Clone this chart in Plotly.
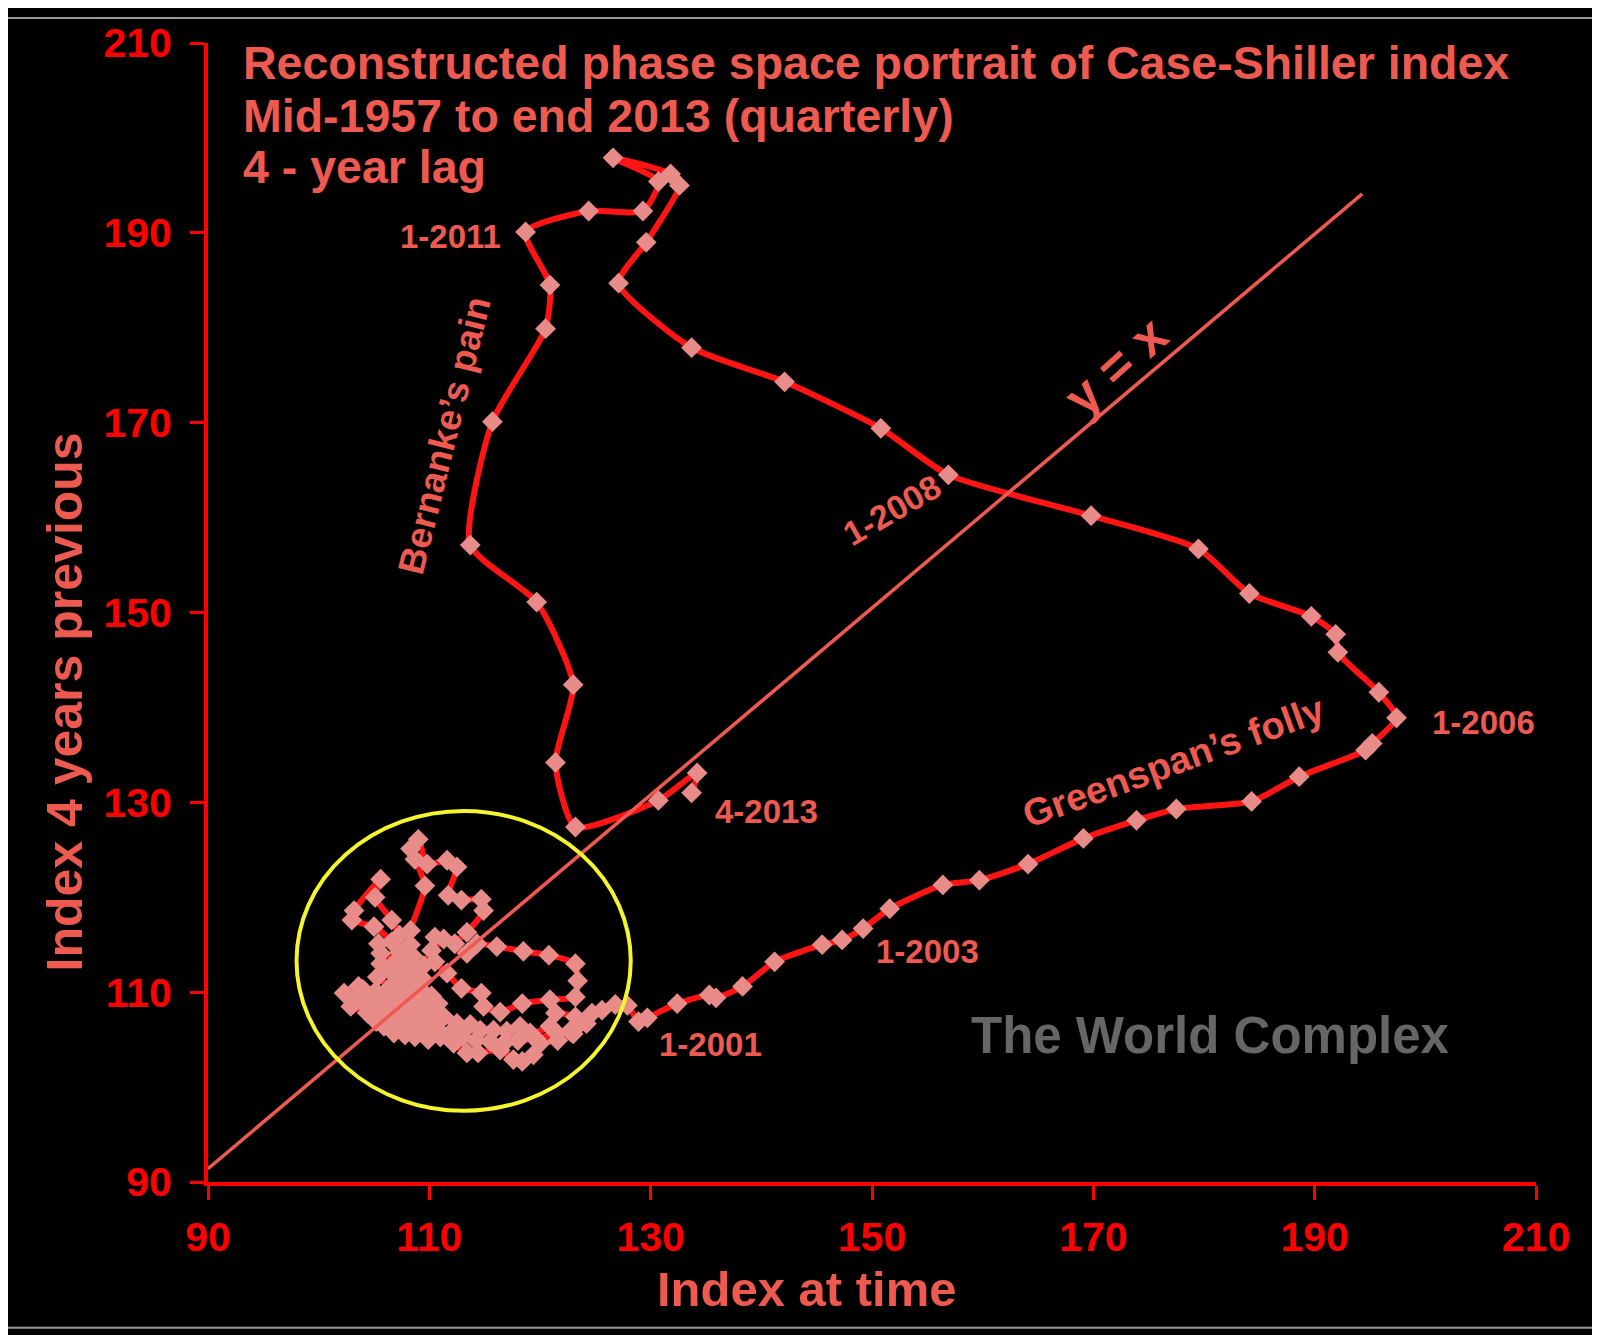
import plotly.graph_objects as go

# 1957-2000: the tangled cluster (order along the path is approximate)
cluster_x = [107.5, 108.2, 108.9, 109.5, 110.4, 109.8, 108.9, 108.3, 107.4, 106.5,
             105.3, 105.6, 106.4, 107.1, 108.3, 109.5, 108.9, 108.3, 107.1, 105.6,
             105.4, 106.6, 105.0, 103.0, 103.2, 105.6, 105.1, 106.6, 107.3, 107.3,
             108.0, 108.6, 108.9, 108.0, 107.0, 105.9, 106.8, 107.8, 108.6, 109.5,
             111.0, 110.4, 109.8, 108.8, 107.6, 106.3, 105.0, 103.6, 102.3, 102.9,
             104.4, 105.2, 106.2, 106.9, 107.8, 108.5, 109.3, 110.2, 110.8, 111.3,
             110.6, 109.9, 109.0, 108.3, 107.4, 107.0, 107.8, 108.5, 108.3, 108.3,
             109.6, 108.7, 108.3, 109.0, 109.8, 111.6, 112.5, 111.7, 112.9, 114.7,
             114.9, 113.4, 112.3, 113.4, 114.3, 116.1, 118.5, 120.8, 123.2, 123.4,
             123.2, 120.9, 118.4, 116.4, 114.9, 114.7, 112.9, 111.6, 110.5, 110.5,
             111.3, 110.2, 109.5, 108.9, 107.9, 106.9, 105.9, 104.6, 103.8, 105.0,
             106.0, 107.2, 108.2, 109.2, 110.2, 111.3, 112.5, 113.7, 114.6, 115.8,
             117.0, 118.2, 119.1, 120.9, 121.4, 123.2, 124.2, 123.0, 121.6, 120.0,
             119.4, 118.4, 117.6, 116.4, 114.4, 113.4, 112.2, 111.0, 109.9, 108.7,
             107.6, 106.5, 105.4, 104.2, 103.4, 104.0, 105.2, 106.0, 107.2, 108.4,
             109.7, 110.8, 111.9, 113.0, 114.2, 115.5, 116.8, 118.0, 119.6, 121.5,
             122.7, 123.6, 124.7, 125.6, 126.8, 127.9, 128.9]
cluster_y = [109.5, 110.3, 109.6, 108.5, 107.8, 106.4, 106.9, 107.8, 108.6, 110.6,
             111.6, 113.0, 112.3, 111.2, 110.9, 111.3, 112.4, 112.7, 113.4, 114.1,
             115.1, 115.3, 116.9, 117.6, 118.6, 121.9, 120.0, 117.6, 116.0, 114.2,
             113.6, 111.8, 109.5, 108.4, 107.2, 106.4, 105.7, 105.5, 106.2, 105.9,
             105.3, 106.9, 108.0, 108.8, 109.3, 109.4, 109.9, 110.6, 109.9, 108.5,
             107.8, 106.9, 107.6, 108.3, 109.0, 109.8, 110.2, 109.6, 108.8, 107.4,
             106.8, 107.3, 107.8, 108.2, 110.0, 111.8, 112.2, 113.8, 115.0, 116.5,
             121.2, 124.0, 125.1, 126.1, 123.5, 123.9, 123.2, 120.2, 119.7, 119.8,
             118.6, 116.3, 115.1, 114.1, 115.1, 114.8, 114.3, 113.9, 113.0, 111.2,
             109.5, 109.2, 108.8, 107.9, 108.5, 109.9, 110.4, 112.0, 113.2, 115.8,
             115.6, 114.4, 112.8, 111.0, 110.5, 109.8, 108.6, 109.3, 109.6, 108.2,
             106.9, 106.3, 106.6, 106.9, 106.1, 107.4, 106.7, 106.6, 106.0, 106.0,
             105.9, 106.4, 105.7, 106.4, 107.8, 107.4, 106.7, 105.6, 104.9, 104.6,
             103.4, 102.7, 102.9, 103.9, 103.6, 103.6, 104.6, 105.3, 105.0, 105.3,
             106.0, 106.6, 107.4, 108.6, 109.3, 110.3, 110.0, 108.3, 107.4, 107.0,
             106.5, 106.0, 105.7, 105.3, 104.9, 104.8, 104.7, 104.9, 105.1, 105.7,
             105.9, 106.7, 107.8, 108.1, 108.7, 108.6, 106.9]

# 2001Q1 - 2006Q1: Greenspan's folly
boom_x = [129.7, 132.4, 135.3, 135.9, 138.3, 141.2, 145.5, 147.3, 149.2, 151.6,
          156.4, 159.7, 164.1, 169.1, 173.9, 177.5, 184.3, 188.6, 194.6, 195.2, 197.4]
boom_y = [107.3, 108.8, 109.7, 109.4, 110.6, 113.2, 115.0, 115.5, 116.7, 118.8,
          121.3, 121.8, 123.5, 126.2, 128.1, 129.3, 130.1, 132.7, 135.5, 136.2, 138.9]

# 2006Q2 - 2011Q1
bust_x = [195.8, 192.1, 191.9, 189.7, 184.1, 179.5, 169.8, 156.9, 150.8, 142.1,
          133.7, 127.1, 129.6, 132.6, 131.8, 126.6, 130.7, 129.3, 124.4, 118.7]
bust_y = [141.6, 145.8, 147.7, 149.6, 152.0, 156.7, 160.2, 164.5, 169.4, 174.3,
          177.9, 184.7, 189.0, 195.0, 196.2, 197.9, 195.4, 192.3, 192.3, 190.1]

# 2011Q2 - 2013Q4: Bernanke's pain
pain_x = [120.9, 120.5, 115.7, 113.7, 119.7, 123.0, 121.4, 123.2, 130.7, 134.2, 133.7]
pain_y = [184.5, 179.9, 170.1, 157.1, 151.1, 142.4, 134.2, 127.4, 130.2, 133.1, 131.0]

# the "y = x" guide as drawn
diag_x = [90, 194.3]
diag_y = [91.4, 194.1]

path_x = cluster_x + boom_x + bust_x + pain_x
path_y = cluster_y + boom_y + bust_y + pain_y

RED = "#FF0000"
SALMON = "#EE5A50"
FONT = "Liberation Sans, Arial, sans-serif"

fig = go.Figure()
fig.add_trace(go.Scatter(
    x=path_x, y=path_y, mode="lines+markers",
    line=dict(color="#FF1414", width=6, shape="spline", smoothing=0.6),
    marker=dict(symbol="diamond", size=16, color="#E88C8A", line=dict(width=0)),
    hoverinfo="x+y"))
fig.add_trace(go.Scatter(
    x=diag_x, y=diag_y, mode="lines",
    line=dict(color=SALMON, width=3.5), hoverinfo="skip"))

fig.add_shape(type="circle", xref="x", yref="y", x0=98.0, x1=128.2, y0=97.5, y1=129.1,
              line=dict(color="#F5F52C", width=4), layer="above")
fig.add_shape(type="rect", xref="paper", yref="paper",
              x0=-0.152, x1=1.046, y0=-0.128, y1=1.022,
              line=dict(color="#9A9A9A", width=2))

def note(x, y, text, size=33, angle=0, color=SALMON, anchor="center", ref="x"):
    yref = "y" if ref == "x" else "paper"
    fig.add_annotation(x=x, y=y, xref=ref, yref=yref, text="<b>" + text + "</b>",
                       showarrow=False, textangle=angle, xanchor=anchor, yanchor="middle",
                       font=dict(family=FONT, size=size, color=color))

note(93, 207.9, "Reconstructed phase space portrait of Case-Shiller index", 46.5, anchor="left")
note(93, 202.3, "Mid-1957 to end 2013 (quarterly)", 46.5, anchor="left")
note(93, 196.9, "4 - year lag", 46.5, anchor="left")
note(111.9, 189.6, "1-2011")
note(111.4, 168.6, "Bernanke’s pain", 37, -76)
note(151.8, 160.8, "1-2008", 34, -30)
note(172.0, 176.0, "y = x", 52, -42)
note(205.3, 138.4, "1-2006")
note(177.2, 134.2, "Greenspan’s folly", 38, -20)
note(140.5, 129.0, "4-2013")
note(155.0, 114.3, "1-2003")
note(135.4, 104.5, "1-2001")
note(180.5, 105.4, "The World Complex", 51, color="#666666")
note(0.451, -0.094, "Index at time", 49, ref="paper")
note(-0.108, 0.4215, "Index 4 years previous", 50, -90, ref="paper")

axis = dict(range=[90, 210], tick0=90, dtick=20, showline=True, linecolor=RED,
            linewidth=4, ticks="outside", ticklen=14, tickwidth=3, tickcolor=RED,
            showgrid=False, zeroline=False,
            tickfont=dict(family=FONT, size=41, color=RED, weight="bold"))

fig.update_layout(
    width=1600, height=1335,
    margin=dict(l=200, r=72, t=25, b=161),
    paper_bgcolor="black", plot_bgcolor="black",
    showlegend=False,
    xaxis=dict(axis, ticklabelstandoff=2),
    yaxis=dict(axis, ticklabelstandoff=10),
)

fig.write_html("out.html")
